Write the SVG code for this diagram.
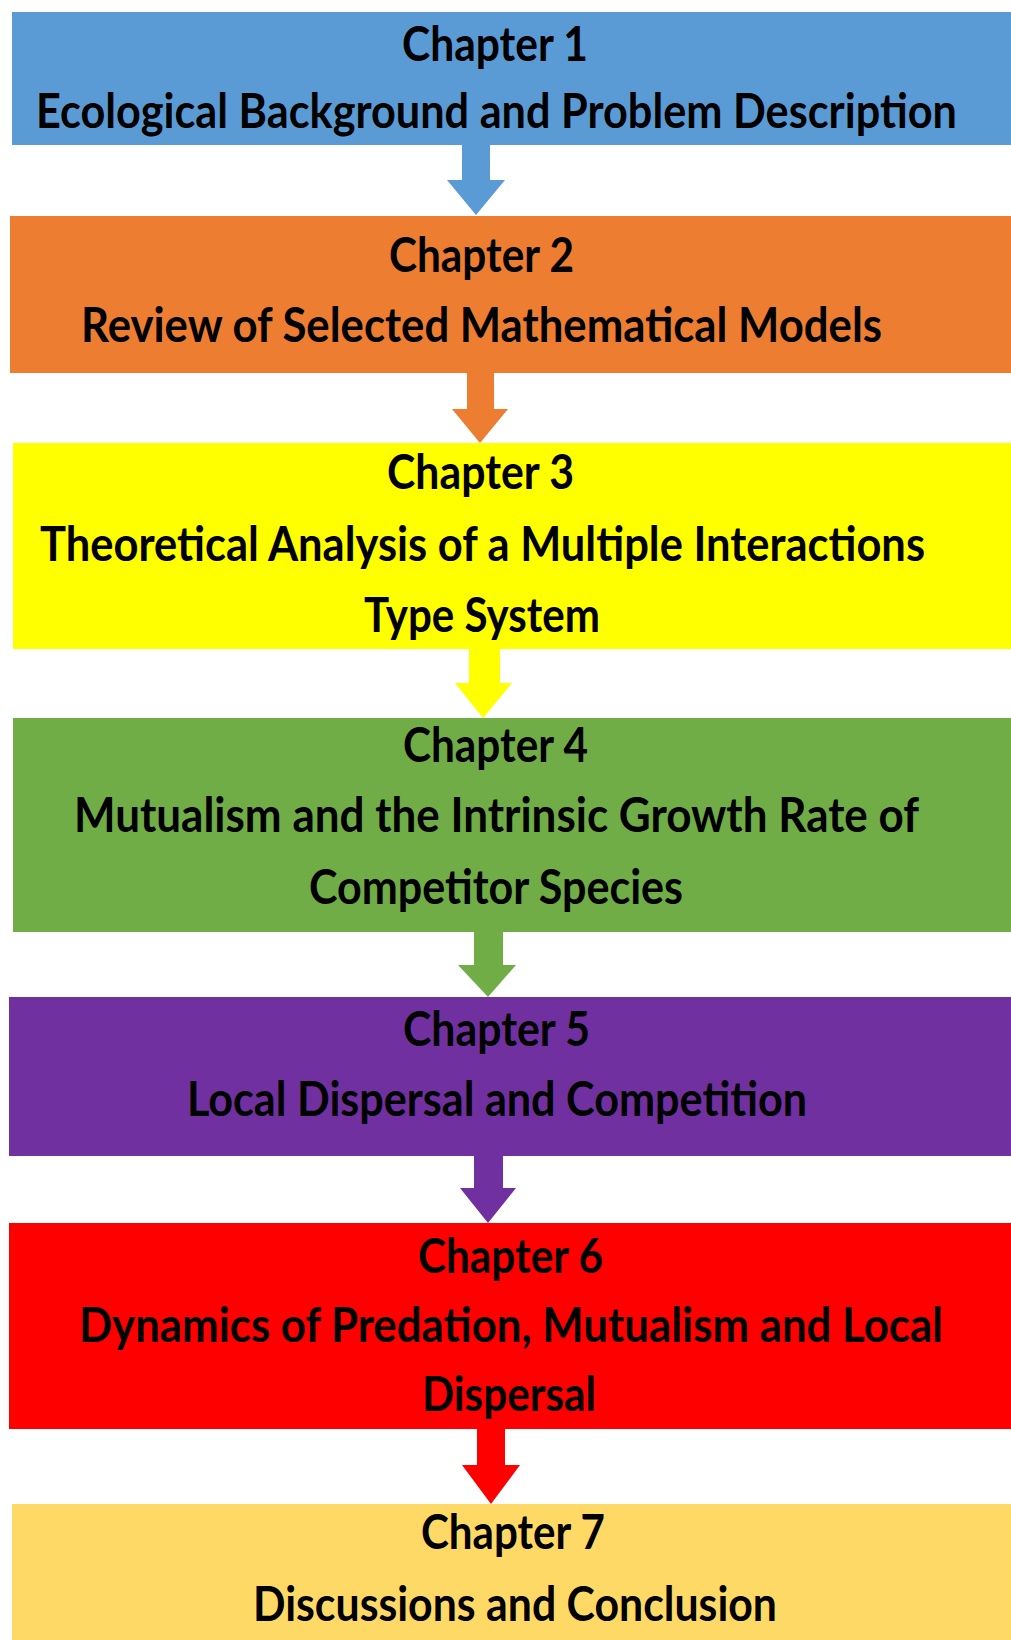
<svg xmlns="http://www.w3.org/2000/svg" width="1011" height="1640" viewBox="0 0 1011 1640">
  <style>
    .box { stroke: none; }
    .lbl { font-family: Lato, "Open Sans", "Liberation Sans", sans-serif; font-weight: bold; font-size: 47px; fill: #000; }
  </style>
  <rect x="0" y="0" width="1011" height="1640" fill="#ffffff"/>

  <!-- connectors: block arrows between chapters -->
  <g id="connectors">
    <polygon fill="#5B9BD5" points="462,144 490,144 490,180 505,180 476,215 447,180 462,180"/>
    <polygon fill="#ED7D31" points="467,372 494,372 494,409 508,409 480,443 452,409 467,409"/>
    <polygon fill="#FFFF00" points="469,648 500,648 500,683 512,683 483,718 455,683 469,683"/>
    <polygon fill="#70AD47" points="474,931 503,931 503,965 516,965 488,997 458,965 474,965"/>
    <polygon fill="#7030A0" points="474,1155 503,1155 503,1188 516,1188 488,1223 460,1188 474,1188"/>
    <polygon fill="#FF0000" points="477,1428 505,1428 505,1465 520,1465 491,1504 462,1465 477,1465"/>
  </g>

  <g id="chapter1">
    <rect class="box" x="12" y="12" width="999" height="133" fill="#5B9BD5"/>
    <text class="lbl" x="402" y="61" textLength="186" lengthAdjust="spacingAndGlyphs">Chapter 1</text>
    <text class="lbl" x="36" y="128" textLength="921" lengthAdjust="spacingAndGlyphs">Ecological Background and Problem Description</text>
  </g>

  <g id="chapter2">
    <rect class="box" x="10" y="216" width="1001" height="157" fill="#ED7D31"/>
    <text class="lbl" x="389" y="272" textLength="185" lengthAdjust="spacingAndGlyphs">Chapter 2</text>
    <text class="lbl" x="81" y="342" textLength="801" lengthAdjust="spacingAndGlyphs">Review of Selected Mathematical Models</text>
  </g>

  <g id="chapter3">
    <rect class="box" x="13" y="443" width="998" height="206" fill="#FFFF00"/>
    <text class="lbl" x="387" y="489" textLength="187" lengthAdjust="spacingAndGlyphs">Chapter 3</text>
    <text class="lbl" x="40" y="561" textLength="885" lengthAdjust="spacingAndGlyphs">Theoretical Analysis of a Multiple Interactions</text>
    <text class="lbl" x="364" y="632" textLength="236" lengthAdjust="spacingAndGlyphs">Type System</text>
  </g>

  <g id="chapter4">
    <rect class="box" x="13" y="718" width="998" height="214" fill="#70AD47"/>
    <text class="lbl" x="403" y="762" textLength="185" lengthAdjust="spacingAndGlyphs">Chapter 4</text>
    <text class="lbl" x="74" y="832" textLength="845" lengthAdjust="spacingAndGlyphs">Mutualism and the Intrinsic Growth Rate of</text>
    <text class="lbl" x="309" y="904" textLength="374" lengthAdjust="spacingAndGlyphs">Competitor Species</text>
  </g>

  <g id="chapter5">
    <rect class="box" x="9" y="997" width="1002" height="159" fill="#7030A0"/>
    <text class="lbl" x="403" y="1046" textLength="187" lengthAdjust="spacingAndGlyphs">Chapter 5</text>
    <text class="lbl" x="187" y="1116" textLength="620" lengthAdjust="spacingAndGlyphs">Local Dispersal and Competition</text>
  </g>

  <g id="chapter6">
    <rect class="box" x="9" y="1223" width="1002" height="206" fill="#FF0000"/>
    <text class="lbl" x="418" y="1273" textLength="185" lengthAdjust="spacingAndGlyphs">Chapter 6</text>
    <text class="lbl" x="79" y="1342" textLength="864" lengthAdjust="spacingAndGlyphs">Dynamics of Predation, Mutualism and Local</text>
    <text class="lbl" x="422" y="1411" textLength="174" lengthAdjust="spacingAndGlyphs">Dispersal</text>
  </g>

  <g id="chapter7">
    <rect class="box" x="12" y="1504" width="999" height="136" fill="#FFD966"/>
    <text class="lbl" x="421" y="1549" textLength="184" lengthAdjust="spacingAndGlyphs">Chapter 7</text>
    <text class="lbl" x="253" y="1621" textLength="524" lengthAdjust="spacingAndGlyphs">Discussions and Conclusion</text>
  </g>
</svg>
